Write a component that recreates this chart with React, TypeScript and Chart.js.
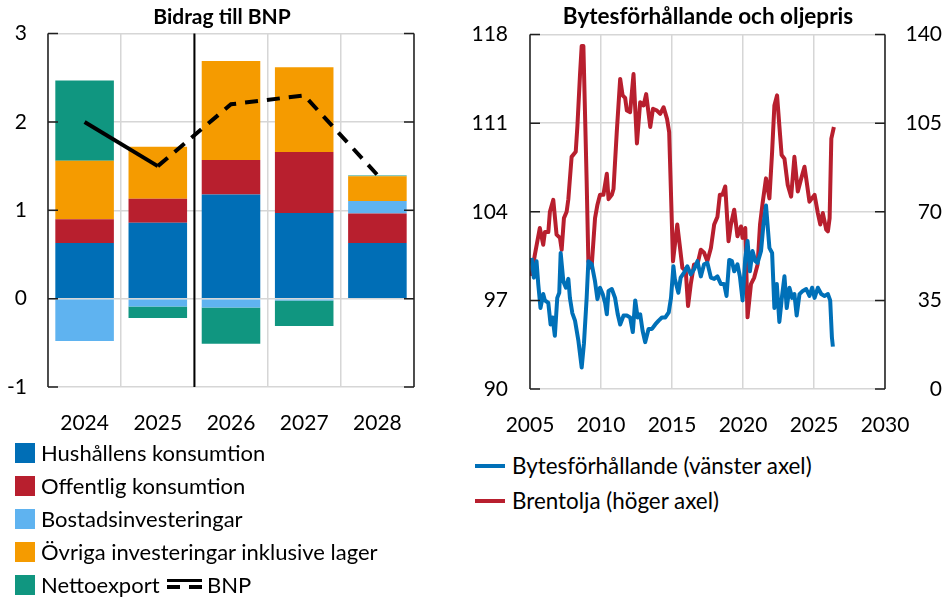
import React, { useEffect, useRef } from 'react';
import { Chart, registerables } from 'chart.js';
Chart.register(...registerables);

const FONT = 'Lato, "Open Sans", sans-serif';

// ---------- Left chart data ----------
const years = ['2024', '2025', '2026', '2027', '2028'];
const hushall = [0.63, 0.86, 1.18, 0.97, 0.63];
const offentlig = [0.27, 0.27, 0.39, 0.69, 0.335];
const bostad = [-0.48, -0.09, -0.1, -0.02, 0.14];
const ovriga = [0.66, 0.59, 1.12, 0.96, 0.28];
const netto = [0.91, -0.13, -0.41, -0.29, 0.01];
const bnp = [2.0, 1.5, 2.2, 2.3, 1.4];
const leftTicks = [-1, 0, 1, 2, 3];

// ---------- Right chart data ----------
const totSeries: [number, number][] = [
  [2005.11, 100.36], [2005.27, 98.8], [2005.46, 100.1], [2005.58, 98.3], [2005.74, 96.4], [2005.93, 97.5],
  [2006.05, 97.0], [2006.29, 96.8], [2006.45, 95.1], [2006.59, 95.65], [2006.75, 94.2], [2006.92, 97.2],
  [2007.06, 97.6], [2007.16, 100.75], [2007.35, 98.5], [2007.53, 98.0], [2007.7, 98.7], [2007.81, 97.2],
  [2007.98, 96.0], [2008.17, 95.4], [2008.41, 93.8], [2008.64, 91.7], [2008.8, 93.6], [2008.99, 97.2],
  [2009.11, 100.1], [2009.35, 99.85], [2009.58, 98.5], [2009.75, 97.1], [2009.93, 98.0], [2010.12, 97.5],
  [2010.29, 96.8], [2010.41, 95.9], [2010.53, 97.75], [2010.76, 97.9], [2010.99, 97.2], [2011.18, 95.9],
  [2011.35, 95.1], [2011.59, 95.8], [2011.82, 95.8], [2012.05, 95.65], [2012.24, 94.5], [2012.41, 97.0],
  [2012.58, 95.65], [2012.76, 95.9], [2012.93, 94.6], [2013.11, 93.7], [2013.35, 94.75], [2013.59, 94.75],
  [2013.82, 95.1], [2014.06, 95.4], [2014.29, 95.65], [2014.53, 95.65], [2014.77, 96.05], [2014.93, 97.2],
  [2015.1, 99.7], [2015.2, 98.7], [2015.45, 97.6], [2015.61, 98.8], [2015.85, 99.2], [2016.08, 99.7],
  [2016.32, 99.05], [2016.55, 99.45], [2016.79, 100.1], [2017.03, 98.9], [2017.26, 99.85], [2017.49, 99.97],
  [2017.74, 98.8], [2017.97, 98.7], [2018.2, 98.9], [2018.44, 98.3], [2018.67, 98.3], [2018.84, 97.35],
  [2019.03, 100.2], [2019.22, 100.1], [2019.38, 99.3], [2019.61, 99.85], [2019.78, 98.9], [2019.97, 97.0],
  [2020.16, 100.35], [2020.32, 101.7], [2020.49, 99.3], [2020.67, 100.9], [2020.87, 100.1], [2021.03, 99.97],
  [2021.27, 100.9], [2021.45, 103.1], [2021.62, 104.5], [2021.86, 101.15], [2022.05, 100.75], [2022.21, 96.4],
  [2022.38, 98.3], [2022.56, 95.3], [2022.75, 97.35], [2022.92, 98.9], [2023.08, 96.4], [2023.27, 98.0],
  [2023.46, 97.2], [2023.62, 97.5], [2023.78, 95.8], [2023.98, 97.5], [2024.21, 97.75], [2024.45, 97.9],
  [2024.68, 97.35], [2024.87, 98.0], [2025.04, 97.2], [2025.27, 98.0], [2025.51, 97.5], [2025.74, 97.35],
  [2025.98, 97.5], [2026.14, 97.0], [2026.26, 94.1], [2026.33, 93.35],
];

const brentSeries: [number, number][] = [
  [2005.1, 44.6], [2005.34, 53], [2005.69, 63.6], [2005.93, 57], [2006.05, 62], [2006.29, 62],
  [2006.4, 70], [2006.64, 74.7], [2006.87, 61], [2007.11, 59.7], [2007.23, 55], [2007.39, 67.5],
  [2007.58, 70], [2007.7, 75], [2007.93, 91.7], [2008.22, 93.7], [2008.34, 104], [2008.52, 124],
  [2008.64, 135.5], [2008.76, 135.5], [2008.99, 82], [2009.11, 50.5], [2009.23, 48], [2009.35, 49],
  [2009.58, 67.5], [2009.75, 72.8], [2009.93, 76.7], [2010.17, 76.7], [2010.41, 85], [2010.53, 75],
  [2010.76, 76.7], [2010.88, 79], [2011.11, 101.5], [2011.35, 122.5], [2011.52, 116], [2011.7, 115],
  [2011.82, 110], [2012.05, 109.4], [2012.29, 124.4], [2012.53, 97], [2012.76, 113.3], [2013.0, 112],
  [2013.18, 116.5], [2013.47, 103.5], [2013.66, 110.7], [2013.94, 110], [2014.17, 108.7], [2014.41, 111.3],
  [2014.65, 106.7], [2014.8, 101.5], [2015.07, 50.5], [2015.37, 65], [2015.54, 57], [2015.73, 47.9],
  [2015.97, 46.6], [2016.13, 32.8], [2016.32, 41.4], [2016.55, 49.2], [2016.79, 49.2], [2017.03, 55],
  [2017.26, 53.8], [2017.49, 50.5], [2017.74, 55.7], [2017.97, 65], [2018.2, 68], [2018.37, 76.7],
  [2018.55, 76.7], [2018.75, 80], [2018.98, 58.4], [2019.15, 65], [2019.38, 70.8], [2019.61, 60.3],
  [2019.86, 64.2], [2019.97, 59.7], [2020.16, 63.6], [2020.32, 28.3], [2020.56, 41.4], [2020.79, 44],
  [2021.03, 49.2], [2021.2, 65], [2021.38, 73.4], [2021.62, 83.2], [2021.86, 75.3], [2022.05, 93.7],
  [2022.21, 112], [2022.4, 116], [2022.56, 104], [2022.72, 92.4], [2022.92, 91], [2023.15, 80.6],
  [2023.39, 76], [2023.62, 91.7], [2023.86, 78], [2024.1, 83.2], [2024.33, 87.8], [2024.45, 83.2],
  [2024.68, 74], [2025.04, 76.7], [2025.27, 69.5], [2025.44, 65], [2025.62, 69.5], [2025.86, 63],
  [2025.98, 62.3], [2026.1, 67.5], [2026.22, 98.9], [2026.4, 103.5],
];

const C = {
  hus: '#006EB6',
  off: '#B81F2E',
  bos: '#5FB3F0',
  ovr: '#F59B00',
  net: '#109680',
  blue: '#0070B8',
  red: '#B81F2E',
  grid: '#d6d6d6',
  frame: '#1f1f1f',
};

const framePlugin = {
  id: 'frame',
  afterDatasetsDraw(chart: any, _args: any, opts: any) {
    const { ctx, chartArea: a } = chart;
    const ys = chart.scales[opts.axis || 'y'];
    ctx.save();
    ctx.strokeStyle = C.frame;
    ctx.lineWidth = 1.5;
    ctx.beginPath();
    ctx.moveTo(a.left, a.top);
    ctx.lineTo(a.left, a.bottom);
    ctx.moveTo(a.right, a.top);
    ctx.lineTo(a.right, a.bottom);
    ys.ticks.forEach((_t: any, i: number) => {
      const y = ys.getPixelForTick(i);
      ctx.moveTo(a.left, y);
      ctx.lineTo(a.left + 10, y);
      ctx.moveTo(a.right - 10, y);
      ctx.lineTo(a.right, y);
    });
    ctx.stroke();
    if (opts.divider) {
      const xs = chart.scales.x;
      const x = (xs.getPixelForValue(1) + xs.getPixelForValue(2)) / 2;
      ctx.strokeStyle = '#000';
      ctx.lineWidth = 2;
      ctx.beginPath();
      ctx.moveTo(x, a.top);
      ctx.lineTo(x, a.bottom);
      ctx.stroke();
    }
    ctx.restore();
  },
};

const tickFont = { family: FONT, size: 21 };

function LeftChart() {
  const ref = useRef<HTMLCanvasElement>(null);
  useEffect(() => {
    const mk = (label: string, data: number[], color: string) => ({
      type: 'bar' as const,
      label,
      data,
      backgroundColor: color,
      stack: 's',
      order: 1,
      barPercentage: 0.8,
      categoryPercentage: 1,
    });
    const chart = new Chart(ref.current!, {
      type: 'bar',
      data: {
        labels: years,
        datasets: [
          {
            type: 'line',
            label: 'BNP',
            data: bnp,
            borderColor: '#000',
            borderWidth: 4,
            pointRadius: 0,
            stack: 'bnp',
            order: 0,
            segment: {
              borderDash: (ctx: any) => (ctx.p0DataIndex >= 1 ? [13, 9] : undefined),
            },
          } as any,
          mk('Hushållens konsumtion', hushall, C.hus),
          mk('Offentlig konsumtion', offentlig, C.off),
          mk('Bostadsinvesteringar', bostad, C.bos),
          mk('Övriga investeringar inklusive lager', ovriga, C.ovr),
          mk('Nettoexport', netto, C.net),
        ],
      },
      options: {
        animation: false,
        responsive: false,
        maintainAspectRatio: false,
        layout: { padding: { top: 32, right: 30, left: 0, bottom: 0 } },
        plugins: { legend: { display: false }, tooltip: { enabled: false }, frame: { axis: 'y', divider: true } } as any,
        scales: {
          x: {
            stacked: true,
            grid: { offset: true, color: C.grid, lineWidth: 1.5, drawTicks: false },
            border: { display: false },
            ticks: { font: tickFont, color: '#000', padding: 24 },
            afterFit: (s: any) => { s.height = 53; },
          },
          y: {
            stacked: true,
            min: -1,
            max: 3,
            afterBuildTicks: (s: any) => { s.ticks = leftTicks.map((v) => ({ value: v })); },
            grid: { color: C.grid, lineWidth: 1.5, drawTicks: false },
            border: { display: false },
            ticks: { font: tickFont, color: '#000', padding: 21, callback: (v: any) => String(v) },
            afterFit: (s: any) => { s.width = 48; },
          },
        },
      },
      plugins: [framePlugin],
    } as any);
    return () => chart.destroy();
  }, []);
  return <canvas ref={ref} width={444} height={440} style={{ position: 'absolute', left: 0, top: 0, width: 444, height: 440 }} />;
}

function RightChart() {
  const ref = useRef<HTMLCanvasElement>(null);
  useEffect(() => {
    const chart = new Chart(ref.current!, {
      type: 'line',
      data: {
        datasets: [
          {
            label: 'Bytesförhållande (vänster axel)',
            data: totSeries.map(([x, y]) => ({ x, y })),
            borderColor: C.blue,
            borderWidth: 4,
            pointRadius: 0,
            borderJoinStyle: 'round',
            yAxisID: 'y',
          },
          {
            label: 'Brentolja (höger axel)',
            data: brentSeries.map(([x, y]) => ({ x, y })),
            borderColor: C.red,
            borderWidth: 4,
            pointRadius: 0,
            borderJoinStyle: 'round',
            yAxisID: 'y1',
          },
        ],
      },
      options: {
        animation: false,
        responsive: false,
        maintainAspectRatio: false,
        layout: { padding: { top: 32, right: 2, left: 0, bottom: 0 } },
        plugins: { legend: { display: false }, tooltip: { enabled: false }, frame: { axis: 'y' } } as any,
        scales: {
          x: {
            type: 'linear',
            min: 2005,
            max: 2030,
            grid: { color: C.grid, lineWidth: 1.5, drawTicks: false },
            border: { display: false },
            ticks: { stepSize: 5, font: tickFont, color: '#000', padding: 24, callback: (v: any) => String(v) },
            afterFit: (s: any) => { s.height = 51; },
          },
          y: {
            min: 90,
            max: 118,
            grid: { color: C.grid, lineWidth: 1.5, drawTicks: false },
            border: { display: false },
            ticks: { stepSize: 7, font: tickFont, color: '#000', padding: 22, callback: (v: any) => String(v) },
            afterFit: (s: any) => { s.width = 60; },
          },
          y1: {
            position: 'right',
            min: 0,
            max: 140,
            grid: { display: false, drawTicks: false },
            border: { display: false },
            ticks: { stepSize: 35, font: tickFont, color: '#000', padding: 4, crossAlign: 'far', callback: (v: any) => String(v) },
            afterFit: (s: any) => { s.width = 57; },
          },
        },
      },
      plugins: [framePlugin],
    } as any);
    return () => chart.destroy();
  }, []);
  return <canvas ref={ref} width={474} height={440} style={{ position: 'absolute', left: 470, top: 0, width: 474, height: 440 }} />;
}

const leftLegend = [
  { label: 'Hushållens konsumtion', color: C.hus },
  { label: 'Offentlig konsumtion', color: C.off },
  { label: 'Bostadsinvesteringar', color: C.bos },
  { label: 'Övriga investeringar inklusive lager', color: C.ovr },
];
const leftLegendY = [453, 486, 519, 552, 585];
const rightLegend = [
  { label: 'Bytesförhållande (vänster axel)', color: C.blue },
  { label: 'Brentolja (höger axel)', color: C.red },
];
const rightLegendY = [466, 501];

function Text({ x, cy, children, bold, center, size }: any) {
  return (
    <div
      style={{
        position: 'absolute',
        left: center ? x - 300 : x,
        width: center ? 600 : undefined,
        textAlign: center ? 'center' : 'left',
        top: cy - 13,
        height: 26,
        lineHeight: '26px',
        fontFamily: FONT,
        fontSize: size || 22,
        fontWeight: bold ? 700 : 400,
        color: '#000',
        whiteSpace: 'nowrap',
      }}
    >
      {children}
    </div>
  );
}

export default function App() {
  return (
    <div style={{ position: 'fixed', left: 0, top: 0, width: 944, height: 598, background: '#fff', overflow: 'hidden' }}>
      <LeftChart />
      <RightChart />
      <Text x={222} cy={16} bold center size={21}>Bidrag till BNP</Text>
      <Text x={708} cy={16} bold center size={22.5}>Bytesförhållande och oljepris</Text>
      {leftLegend.map((it, i) => (
        <React.Fragment key={it.label}>
          <div style={{ position: 'absolute', left: 15, top: leftLegendY[i] - 10, width: 20, height: 20, background: it.color }} />
          <Text x={41} cy={leftLegendY[i]}>{it.label}</Text>
        </React.Fragment>
      ))}
      <div style={{ position: 'absolute', left: 15, top: leftLegendY[4] - 10, width: 20, height: 20, background: C.net }} />
      <Text x={41} cy={leftLegendY[4]}>Nettoexport</Text>
      <div style={{ position: 'absolute', left: 167, top: 579, width: 35, height: 3, background: '#000' }} />
      <div style={{ position: 'absolute', left: 167, top: 585, width: 13, height: 4, background: '#000' }} />
      <div style={{ position: 'absolute', left: 189, top: 585, width: 13, height: 4, background: '#000' }} />
      <Text x={207} cy={leftLegendY[4]}>BNP</Text>
      {rightLegend.map((it, i) => (
        <React.Fragment key={it.label}>
          <div style={{ position: 'absolute', left: 475, top: rightLegendY[i] - 2, width: 30, height: 4, background: it.color }} />
          <Text x={512} cy={rightLegendY[i]} size={22.4}>{it.label}</Text>
        </React.Fragment>
      ))}
    </div>
  );
}
